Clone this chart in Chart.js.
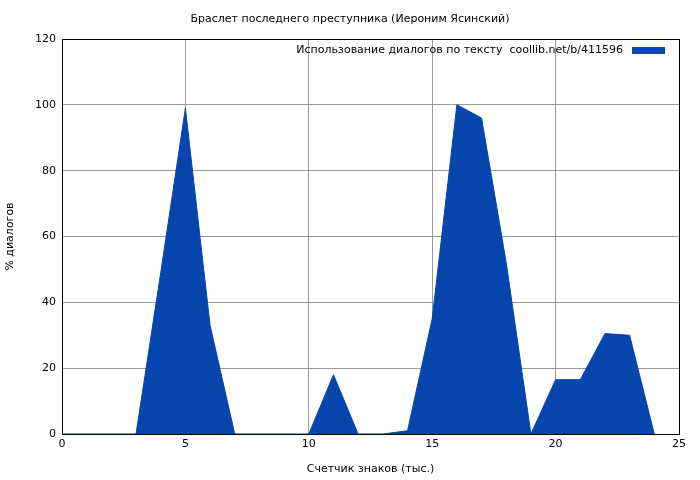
<!DOCTYPE html>
<html><head><meta charset="utf-8">
<script src="https://cdn.jsdelivr.net/npm/chart.js@4/dist/chart.umd.min.js"></script>
<style>body{margin:0;background:#fff}#wrap{width:700px;height:480px}</style>
</head><body><div id="wrap"><canvas id="c"></canvas></div>
<script>
// x = thousands of characters, y = % of dialogue
const xs = [0,1,2,3,4,5,6,7,8,9,10,11,12,13,14,15,16,17,18,19,20,21,22,23,24];
const ys = [0,0,0,0,49,99,33,0,0,0,0,18,0,0,1,35,100,96,52,0,16.5,16.5,30.5,30,0];
const title = 'Браслет последнего преступника (Иероним Ясинский)';
const legendText = 'Использование диалогов по тексту  coollib.net/b/411596';
const fillColor = '#0645ad';
const font = '11px "DejaVu Sans"';

const overlay = {
    id:'overlay',
    afterDraw(chart){
        const c = chart.ctx, a = chart.chartArea;
        c.save();
        c.font = font; c.fillStyle = '#000';
        c.textAlign = 'center'; c.textBaseline = 'middle';
        c.fillText(title, 350, 19);
        c.strokeStyle = '#000'; c.lineWidth = 1;
        c.strokeRect(Math.round(a.left)+0.5, Math.round(a.top)+0.5, Math.round(a.right-a.left), Math.round(a.bottom-a.top));
        c.textAlign = 'right';
        c.fillText(legendText, a.right-56, a.top+11);
        c.fillStyle = fillColor;
        c.fillRect(a.right-47, a.top+8, 33, 7);
        c.restore();
    }
};

new Chart(document.getElementById('c'), {
    type:'line',
    data:{datasets:[{data: xs.map((x,i)=>({x:x,y:ys[i]})), fill:'origin', backgroundColor:fillColor,
        borderColor:fillColor, borderWidth:1, pointRadius:0, tension:0}]},
    options:{
        responsive:true, maintainAspectRatio:false, animation:false,
        layout:{padding:{top:39,right:21,left:0,bottom:0}},
        plugins:{legend:{display:false}, tooltip:{enabled:false}},
        scales:{
            x:{type:'linear', min:0, max:25,
                ticks:{stepSize:5, color:'#000', font:{family:'DejaVu Sans', size:11}, padding:4},
                grid:{color:'#999', lineWidth:1, tickLength:0, borderDash:[1,2]},
                border:{color:'#000', dash:[]},
                title:{display:true, text:'Счетчик знаков (тыс.)', color:'#000', font:{family:'DejaVu Sans', size:11}},
                afterFit(s){s.height = 46;}},
            y:{min:0, max:120,
                ticks:{stepSize:20, color:'#000', font:{family:'DejaVu Sans', size:11}, padding:6},
                grid:{color:'#999', lineWidth:1, tickLength:0, borderDash:[1,2]},
                border:{color:'#000'},
                title:{display:true, text:'% диалогов', color:'#000', font:{family:'DejaVu Sans', size:11}},
                afterFit(s){s.width = 62;}}
        }
    },
    plugins:[overlay]
});
</script></body></html>
